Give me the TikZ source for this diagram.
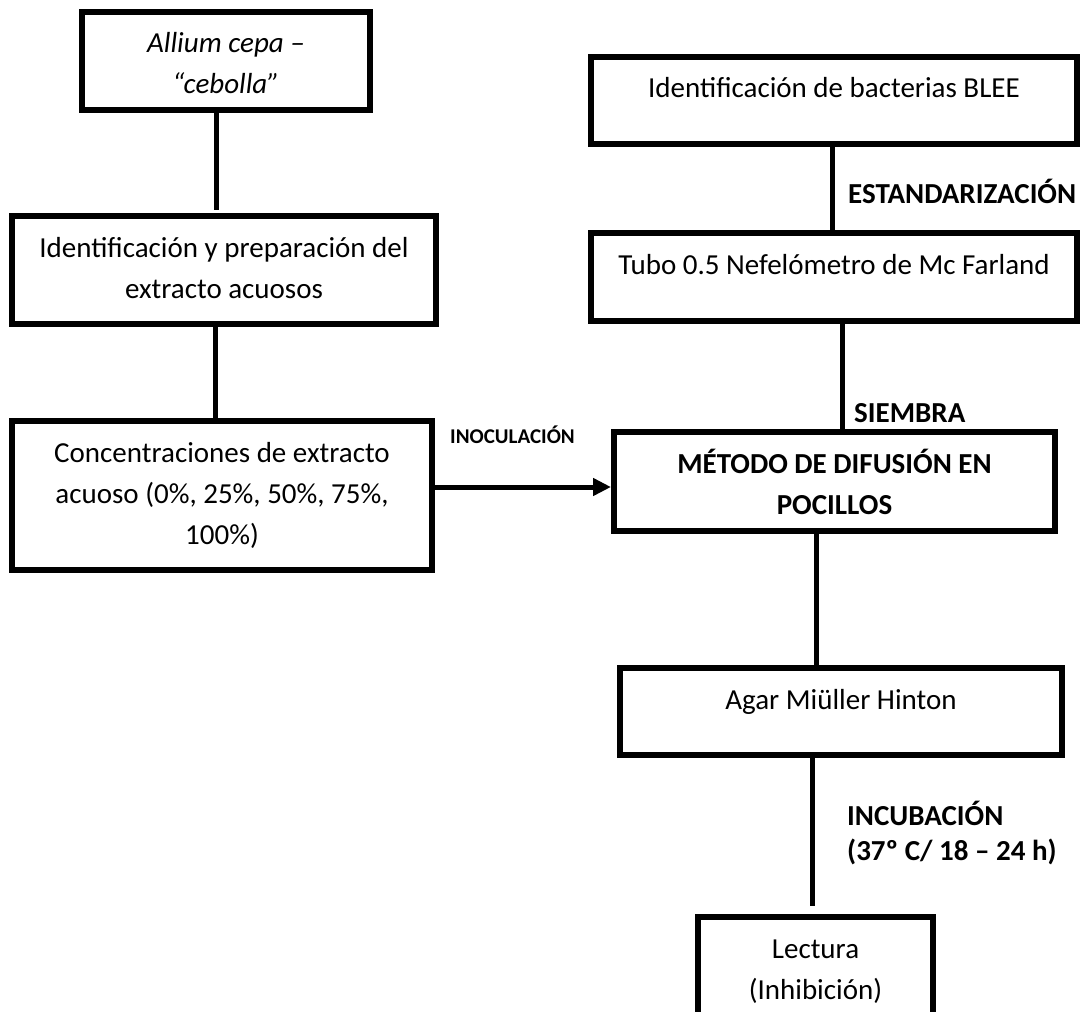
\documentclass[tikz,border=0pt]{standalone}
\usepackage{fontspec}
\setmainfont{Carlito}
\usetikzlibrary{arrows.meta}
\newcommand\bxtext[3]{\parbox[c][#2][t]{#1}{\centering\fontsize{29}{41}\selectfont\rule{0pt}{41pt}#3}}
\tikzset{
  stepbox/.style={draw=black, line width=5.5pt, inner sep=0pt, outer sep=0pt, anchor=north west},
  conn/.style={draw=black, line width=5pt},
  arr/.style={draw=black, line width=5pt, -{Triangle[length=18pt,width=17pt]}},
  lblbig/.style={inner sep=0pt, anchor=base west, font=\fontsize{29}{35}\selectfont\bfseries},
  lblsmall/.style={inner sep=0pt, anchor=base west, font=\fontsize{21}{25}\selectfont\bfseries}
}
\begin{document}
\begin{tikzpicture}[x=1pt,y=1pt]
\useasboundingbox (0,0) rectangle (1091,-1011);
\fill[white] (0,0) rectangle (1091,-1011);
\clip (0,0) rectangle (1091,-1011);

% boxes
\node[stepbox] (allium) at (82,-12) {\bxtext{288pt}{98pt}{\itshape Allium cepa –\\ “cebolla”}};
\node[stepbox] (blee) at (591,-57) {\bxtext{486pt}{87pt}{Identificación de bacterias BLEE}};
\node[stepbox] (ident) at (12,-216) {\bxtext{424pt}{108pt}{Identificación y preparación del\\ extracto acuosos}};
\node[stepbox] (tubo) at (591,-233) {\bxtext{486pt}{88pt}{Tubo 0.5 Nefelómetro de Mc Farland}};
\node[stepbox] (conc) at (12,-421) {\bxtext{420pt}{149pt}{Concentraciones de extracto\\ acuoso (0\%, 25\%, 50\%, 75\%,\\ 100\%)}};
\node[stepbox] (metodo) at (614,-432) {\bxtext{441pt}{99pt}{\bfseries MÉTODO DE DIFUSIÓN EN\\ POCILLOS}};
\node[stepbox] (agar) at (620,-668) {\bxtext{442pt}{87pt}{Agar Miüller Hinton}};
\node[stepbox] (lectura) at (698,-917) {\bxtext{235pt}{120pt}{Lectura\\ (Inhibición)}};

% connectors
\draw[conn, shorten >=6pt] ([xshift=-10pt]allium.south) -- ([xshift=-10pt]allium.south |- ident.north);
\draw[conn] ([xshift=-9pt]ident.south) -- ([xshift=-9pt]ident.south |- conc.north);
\draw[conn] ([xshift=-2pt]blee.south) -- ([xshift=-2pt]blee.south |- tubo.north);
\draw[conn] ([xshift=8pt]tubo.south) -- ([xshift=8pt]tubo.south |- metodo.north);
\draw[conn] ([xshift=-18.5pt]metodo.south) -- ([xshift=-18.5pt]metodo.south |- agar.north);
\draw[conn, shorten >=11pt] ([xshift=-29pt]agar.south) -- ([xshift=-29pt]agar.south |- lectura.north);
\draw[arr, shorten >=3pt] ([yshift=8.5pt]conc.east) -- ([yshift=8.5pt]conc.east -| metodo.west);

% labels
\node[lblsmall] (inoc) at (450,-443) {INOCULACIÓN};
\node[lblbig] (estand) at (848,-203) {ESTANDARIZACIÓN};
\node[lblbig] (siembra) at (854,-422) {SIEMBRA};
\node[lblbig] (incub) at (847,-825) {\parbox[t]{240pt}{\raggedright INCUBACIÓN\\ (37º C/ 18 – 24 h)}};
\end{tikzpicture}
\end{document}
